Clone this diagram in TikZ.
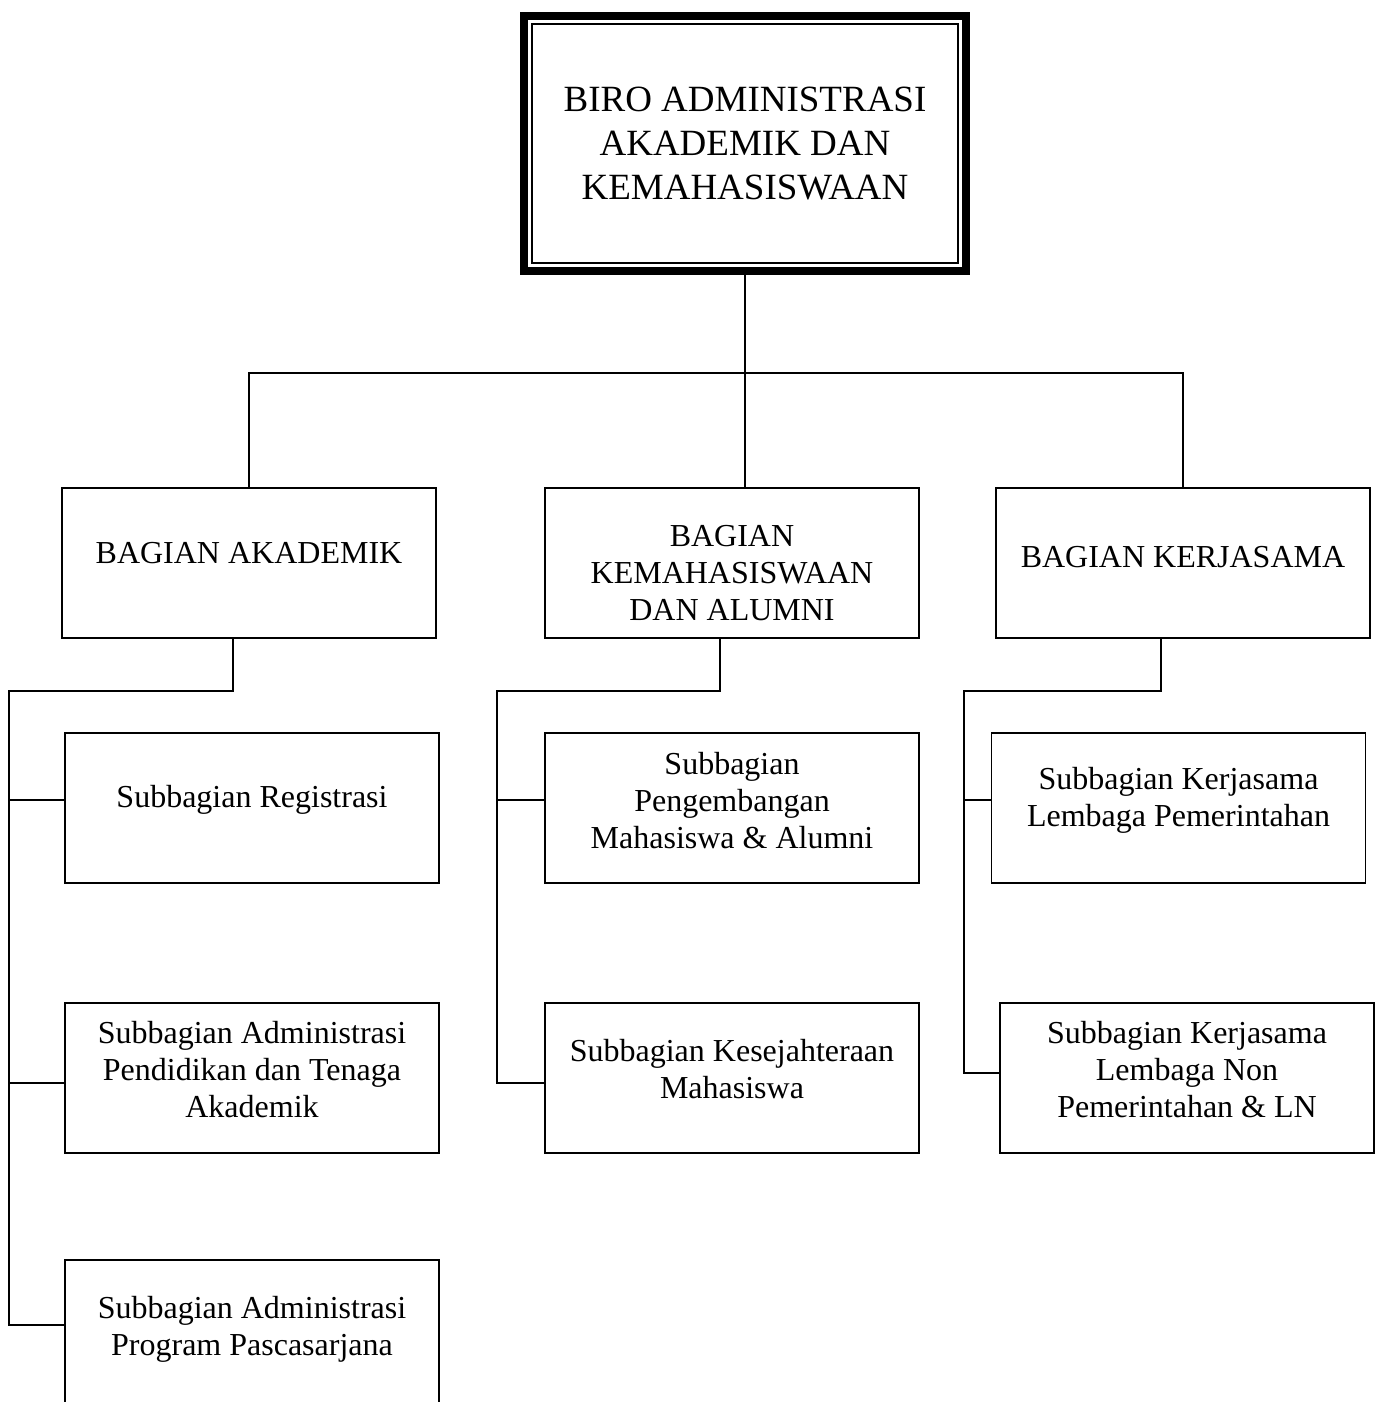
\documentclass[tikz,border=0pt]{standalone}
\usepackage{fontspec}
\setmainfont{Liberation Serif}
\usetikzlibrary{positioning}
\usetikzlibrary{calc}

\begin{document}
\begin{tikzpicture}[x=1pt,y=1pt,
		box/.style={draw,rectangle,line width=1.5pt,minimum width=374pt,minimum height=150pt},
		boxtext/.style={align=center,font=\fontsize{32}{37}\selectfont},
		conn/.style={line width=1.5pt}]
		\useasboundingbox (0,0) rectangle (1382,-1402);
		\clip (0,0) rectangle (1382,-1402);
		% head
		\node (biro) [draw,rectangle,line width=8pt,outer sep=0pt,minimum width=442pt,minimum height=255pt,align=center,
		font=\fontsize{37}{44}\selectfont] at (745,-143.5) {BIRO ADMINISTRASI\\AKADEMIK DAN\\KEMAHASISWAAN};
		\draw [line width=1.5pt] ($(biro.south west)+(8,8)$) rectangle ($(biro.north east)+(-8,-8)$);
		% bagian
		\node (akad) [box,label={[boxtext,yshift=10pt]center:BAGIAN AKADEMIK}] at (249,-563) {};
		\node (kema) [box,label={[boxtext,yshift=-10pt]center:BAGIAN\\KEMAHASISWAAN\\DAN ALUMNI}] at (732,-563) {};
		\node (kerja) [box,label={[boxtext,yshift=6pt]center:BAGIAN KERJASAMA}] at (1183,-563) {};
		% subbagian
		\node (reg) [box,label={[boxtext,yshift=8pt]center:Subbagian Registrasi}] at (252,-808) {};
		\node (adm) [box,label={[boxtext,yshift=8pt]center:Subbagian Administrasi\\Pendidikan dan Tenaga\\Akademik}] at (252,-1078) {};
		\node (pasca) [box,label={[boxtext,yshift=6pt]center:Subbagian Administrasi\\Program Pascasarjana}] at (252,-1335) {};
		\node (peng) [box,label={[boxtext,yshift=7pt]center:Subbagian\\Pengembangan\\Mahasiswa \& Alumni}] at (732,-808) {};
		\node (kesej) [box,label={[boxtext,yshift=9pt]center:Subbagian Kesejahteraan\\Mahasiswa}] at (732,-1078) {};
		\node (kjpem) [box,label={[boxtext,yshift=8pt]center:Subbagian Kerjasama\\Lembaga Pemerintahan}] at (1178.5,-808) {};
		\node (kjnon) [box,label={[boxtext,yshift=8pt]center:Subbagian Kerjasama\\Lembaga Non\\Pemerintahan \& LN}] at (1187,-1078) {};
		% connectors
		\coordinate (bus) at (745,-373);
		\coordinate (akadbus) at (9,-691);
		\coordinate (kemabus) at (497,-691);
		\coordinate (kerjabus) at (964,-691);
		\draw [conn] (biro.south) -- (bus);
		\draw [conn] (akad.north) |- (bus) -| (kerja.north);
		\draw [conn] (bus) -- (bus |- kema.north);
		\draw [conn] ([xshift=-16pt]akad.south) |- (akadbus) |- ([yshift=10pt]pasca.west);
		\draw [conn] ([xshift=-12pt]kema.south) |- (kemabus) |- ([yshift=-5pt]kesej.west);
		\draw [conn] ([xshift=-22pt]kerja.south) |- (kerjabus) |- ([yshift=5pt]kjnon.west);
		\foreach \n/\b/\d in {reg/akadbus/8,adm/akadbus/-5,peng/kemabus/8,kjpem/kerjabus/8}
		\draw [conn] (\b |- {$(\n.west)+(0,\d)$}) -- ([yshift=\d pt]\n.west);
	\end{tikzpicture}
\end{document}
